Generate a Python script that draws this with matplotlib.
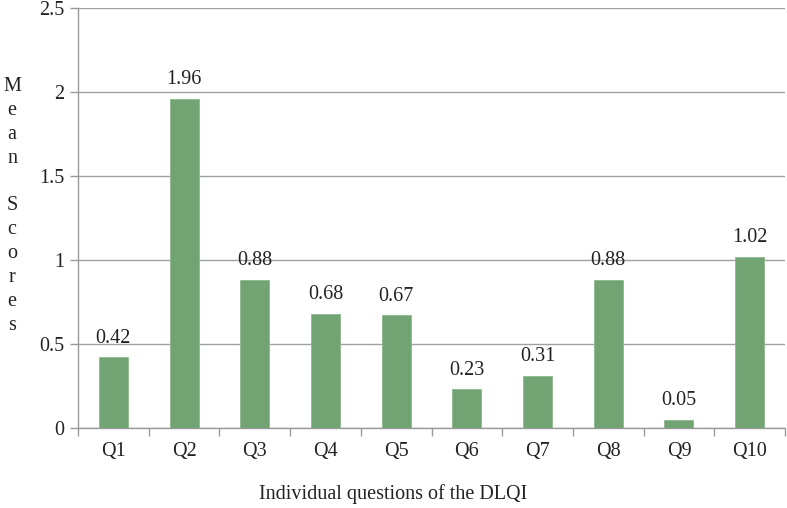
import matplotlib
matplotlib.use("Agg")
import matplotlib.pyplot as plt
import numpy as np

categories = ["Q1", "Q2", "Q3", "Q4", "Q5", "Q6", "Q7", "Q8", "Q9", "Q10"]
values = [0.42, 1.96, 0.88, 0.68, 0.67, 0.23, 0.31, 0.88, 0.05, 1.02]
yticks = [0, 0.5, 1, 1.5, 2, 2.5]
ytick_labels = ["0", "0.5", "1", "1.5", "2", "2.5"]

plt.rcParams['font.family'] = ['Liberation Serif', 'DejaVu Serif']
FS = 14.5

fig = plt.figure(figsize=(7.87, 5.08), dpi=100)
ax = fig.add_axes([78/787, 80/508, 707/787, 420/508])

x = np.arange(len(categories))
bar_color = '#71A373'
ax.bar(x, values, width=0.41, color=bar_color, edgecolor='#8DB98F', linewidth=0.6, zorder=3)
for xi, v in zip(x, values):
    ax.annotate(f"{v:.2f}", (xi, v), xytext=(0, 7), textcoords='offset points',
                ha='center', va='bottom', fontsize=FS, color='#222222')

ax.set_xlim(-0.5, len(categories) - 0.5)
ax.set_ylim(0, 2.5)
ax.set_yticks(yticks)
ax.set_yticklabels(ytick_labels)
ax.set_xticks(x)
ax.set_xticklabels(categories)
ax.tick_params(axis='x', length=0, labelsize=FS, pad=10, colors='#222222')
ax.tick_params(axis='y', length=6, width=1, color='#9A9A9A', labelsize=FS, pad=4, labelcolor='#222222')
# category boundary ticks
ax.set_xticks(np.arange(-0.5, len(categories), 1.0), minor=True)
ax.tick_params(axis='x', which='minor', length=6, width=1, color='#9A9A9A', direction='out')

ax.yaxis.grid(True, color='#A0A0A0', linewidth=1, zorder=0)
ax.set_axisbelow(True)
for s in ['top', 'right']:
    ax.spines[s].set_visible(False)
for s in ['left', 'bottom']:
    ax.spines[s].set_color('#9A9A9A')
    ax.spines[s].set_linewidth(1)

fig.text(393/787, 1 - 494/508, "Individual questions of the DLQI", ha='center', va='center',
         fontsize=FS, color='#222222')

fig.text(12/787, 1 - 206/508, "\n".join("Mean Scores"), ha='center', va='center',
         fontsize=FS, linespacing=1.35, color='#222222')

fig.savefig("out.png", dpi=100)
